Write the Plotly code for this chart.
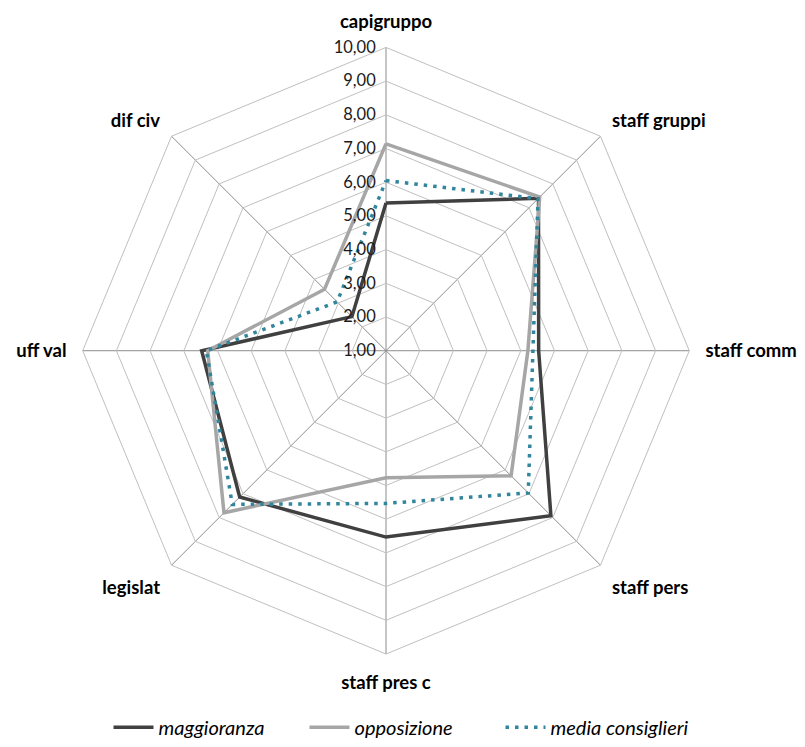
import plotly.graph_objects as go

categories = ["capigruppo", "staff gruppi", "staff comm", "staff pers",
              "staff pres c", "legislat", "uff val", "dif civ"]
maggioranza = [5.38, 7.40, 5.53, 7.92, 6.53, 7.14, 6.47, 2.43]
opposizione = [7.14, 7.45, 5.21, 6.25, 4.77, 7.80, 6.29, 3.58]
media_consiglieri = [6.05, 7.38, 5.36, 6.97, 5.53, 7.45, 6.33, 3.05]
radial_ticks = [1, 2, 3, 4, 5, 6, 7, 8, 9, 10]

def closed(v):
    return list(v) + [v[0]]

theta = closed(categories)

fig = go.Figure()
fig.add_trace(go.Scatterpolar(r=closed(maggioranza), theta=theta, mode="lines",
                              name="maggioranza",
                              line=dict(color="#404040", width=3.5)))
fig.add_trace(go.Scatterpolar(r=closed(opposizione), theta=theta, mode="lines",
                              name="opposizione",
                              line=dict(color="#a6a6a6", width=3.5)))
fig.add_trace(go.Scatterpolar(r=closed(media_consiglieri), theta=theta, mode="lines",
                              name="media consiglieri",
                              line=dict(color="#31859c", width=3.5, dash="3.5px,6px")))

W, H = 805, 747
cx, cy, R = 386, 355, 307
fig.update_layout(
    width=W, height=H,
    margin=dict(l=0, r=0, t=0, b=0),
    paper_bgcolor="white",
    separators=",.",
    font=dict(family="Lato, 'Open Sans', sans-serif", size=14, color="#000000"),
    polar=dict(
        domain=dict(x=[(cx - R) / W, (cx + R) / W],
                    y=[1 - (cy + R) / H, 1 - (cy - R) / H]),
        bgcolor="white",
        gridshape="linear",
        radialaxis=dict(range=[1, 10], tickvals=radial_ticks, tickformat=".2f",
                        angle=90, tickangle=90, side="counterclockwise", showline=False,
                        gridcolor="#c0c0c0", gridwidth=1,
                        ticks="outside", ticklen=4, tickcolor="rgba(0,0,0,0)",
                        tickfont=dict(size=16.5, color="#1a1a1a")),
        angularaxis=dict(direction="clockwise", rotation=90,
                         categoryorder="array", categoryarray=categories,
                         linecolor="#c0c0c0", linewidth=1,
                         gridcolor="#8c8c8c", gridwidth=1,
                         ticks="outside", ticklen=12, tickcolor="rgba(0,0,0,0)",
                         tickfont=dict(size=18.5, color="#000000",
                                       family="Lato, 'Open Sans', sans-serif",
                                       weight="bold")),
    ),
    showlegend=True,
    legend=dict(orientation="h", x=0.5, xanchor="center", y=1 - 736 / H,
                yanchor="middle", font=dict(size=20, style="italic", color="#000000"),
                itemwidth=40, entrywidth=141, entrywidthmode="pixels"),
)

fig.write_html("out.html")
